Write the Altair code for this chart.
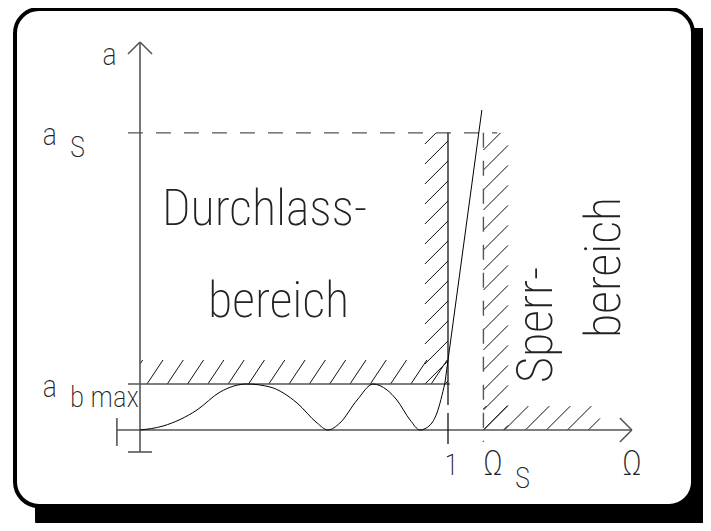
import altair as alt
import pandas as pd

# ---------------- data (Omega on x, attenuation a on y) ----------------
OMEGA_P = 1.0        # pass-band edge
OMEGA_S = 1.115      # stop-band edge
A_B_MAX = 1.0        # max. pass-band attenuation
A_S = 6.46           # min. stop-band attenuation

# attenuation curve
curve_omega = [0.0, 0.075, 0.185, 0.26, 0.347, 0.422, 0.51, 0.575, 0.61, 0.649,
               0.705, 0.757, 0.802, 0.834, 0.877, 0.909, 0.942, 0.964, 0.990]
curve_a = [0.0, 0.087, 0.435, 0.826, 1.0, 0.935, 0.587, 0.152, 0.0, 0.152,
           0.652, 1.0, 0.870, 0.652, 0.217, 0.0, 0.109, 0.370, 1.022]
# steep rising part of the curve
steep_omega = [0.990, 1.110]
steep_a = [1.022, 6.957]

# view of the drawing (data units)
X_MIN, X_MAX = -0.42857, 1.82792
Y_MIN, Y_MAX = -2.0217, 9.1739
W, H = 695, 515

# decorative frame and shadow
frame = dict(x=-0.4058, x2=1.7955, y=9.152, y2=-1.652)
shadow = dict(x=-0.3409, x2=1.95, y=8.739, y2=-2.5)

# axes
X_AXIS = (-0.075, 1.597)
Y_AXIS = (-0.478, 8.435)

sx = W / (X_MAX - X_MIN)
sy = H / (Y_MAX - Y_MIN)

# ---------------- helpers ----------------
def seg(x, y, x2, y2):
    return dict(x=x, y=y, x2=x2, y2=y2)

def hatch(x0, x1, y0, y1, slope, h_px, phase):
    """hatch lines y = slope*x + c (pixel space), clipped to the band"""
    X0, X1, Y0, Y1 = x0 * sx, x1 * sx, y0 * sy, y1 * sy
    P = phase * sx
    out = []
    for k in range(-60, 60):
        xp = P + k * h_px
        c = Y0 - slope * xp
        xa = max(X0, (Y0 - c) / slope)
        xb = min(X1, (Y1 - c) / slope)
        if xb - xa > 1.0:
            out.append(seg(xa / sx, (slope * xa + c) / sy, xb / sx, (slope * xb + c) / sy))
    return out

# ---------------- tables ----------------
axes_df = pd.DataFrame([
    seg(X_AXIS[0], 0, X_AXIS[1], 0),                    # Omega axis
    seg(0, Y_AXIS[0], 0, Y_AXIS[1]),                    # a axis
    seg(X_AXIS[1], 0, 1.558, 0.261),                    # arrow heads
    seg(X_AXIS[1], 0, 1.558, -0.261),
    seg(0, Y_AXIS[1], -0.039, 8.174),
    seg(0, Y_AXIS[1], 0.039, 8.174),
    seg(-0.039, Y_AXIS[0], 0.039, Y_AXIS[0]),           # end ticks
    seg(X_AXIS[0], 0.261, X_AXIS[0], -0.348),
    seg(-0.039, A_B_MAX, 1.006, A_B_MAX),               # a_b max
])

solid_df = pd.DataFrame([seg(OMEGA_P, A_B_MAX, OMEGA_P, A_S)])
dash_p_df = pd.DataFrame([seg(OMEGA_P, -0.304, OMEGA_P, A_B_MAX)])
dash_df = pd.DataFrame([
    seg(-0.039, A_S, 1.16, A_S),
    seg(OMEGA_S, A_S, OMEGA_S, -0.261),
])

hatch_rows = []
hatch_rows += hatch(0.0, OMEGA_P, A_B_MAX, 1.522, 1.5, 20.3, 0.0227)
hatch_rows += hatch(0.925, OMEGA_P, A_B_MAX, A_S, 1.0, 20.0, 0.925)
hatch_rows += hatch(OMEGA_S, 1.195, 0.0, A_S, 1.0, 20.0, OMEGA_S)
hatch_rows += hatch(OMEGA_S, 1.4935, 0.0, 0.52, 1.0, 21.0, OMEGA_S)
hatch_df = pd.DataFrame(hatch_rows)

curve_df = pd.DataFrame({"x": curve_omega, "y": curve_a})
steep_df = pd.DataFrame({"x": steep_omega, "y": steep_a})

FONT = "Roboto Condensed, Liberation Sans Narrow, DejaVu Sans Condensed, Roboto, sans-serif"

text_a = pd.DataFrame([
    dict(x=-0.075, y=7.935, t="a"),
    dict(x=-0.2695, y=6.196, t="a"),
    dict(x=-0.2695, y=0.717, t="a"),
])
text_sub = pd.DataFrame([
    dict(x=-0.2273, y=5.935, t="S"),
    dict(x=-0.2273, y=0.50, t="b max"),
    dict(x=1.2175, y=-1.261, t="S"),
])
text_omega = pd.DataFrame([
    dict(x=1.1136, y=-0.978, t="Ω"),
    dict(x=1.5649, y=-0.978, t="Ω"),
])
text_one = pd.DataFrame([
    dict(x=1.0114, y=-0.978, t="1"),
])
big_text = pd.DataFrame([
    dict(x=0.0714, y=4.457, t="Durchlass-"),
    dict(x=0.2208, y=2.457, t="bereich"),
])
rot_text = pd.DataFrame([
    dict(x=1.3377, y=1.022, t="Sperr-"),
    dict(x=1.5584, y=2.0, t="bereich"),
])

# ---------------- chart ----------------
xs = alt.Scale(domain=[X_MIN, X_MAX], nice=False, zero=False)
ys = alt.Scale(domain=[Y_MIN, Y_MAX], nice=False, zero=False)
X = lambda f="x": alt.X(f"{f}:Q", scale=xs, axis=None)
Y = lambda f="y": alt.Y(f"{f}:Q", scale=ys, axis=None)

def rules(df, **kw):
    return alt.Chart(df).mark_rule(**kw).encode(x=X(), y=Y(), x2="x2:Q", y2="y2:Q")

def texts(df, size, **kw):
    return alt.Chart(df).mark_text(font=FONT, fontSize=size, fontWeight=200, color="#222",
                                   baseline="alphabetic", **kw).encode(x=X(), y=Y(), text="t:N")

shadow_l = alt.Chart(pd.DataFrame([shadow])).mark_rect(color="black", cornerRadius=26).encode(
    x=X(), x2="x2:Q", y=Y(), y2="y2:Q")
frame_l = alt.Chart(pd.DataFrame([frame])).mark_rect(
    fill="white", stroke="black", strokeWidth=4, cornerRadius=24).encode(
    x=X(), x2="x2:Q", y=Y(), y2="y2:Q")

layers = [
    shadow_l,
    frame_l,
    rules(hatch_df, color="#111", strokeWidth=1),
    rules(axes_df, color="#555", strokeWidth=1.6),
    rules(dash_df, color="#555", strokeWidth=1.4, strokeDash=[15, 13]),
    rules(solid_df, color="black", strokeWidth=1.2),
    rules(dash_p_df, color="black", strokeWidth=1.2, strokeDash=[31, 8]),
    alt.Chart(curve_df).mark_line(color="black", strokeWidth=1, interpolate="monotone").encode(x=X(), y=Y()),
    alt.Chart(steep_df).mark_line(color="black", strokeWidth=1).encode(x=X(), y=Y()),
    texts(text_a, 31, align="right"),
    texts(text_sub, 29, align="left"),
    texts(text_omega, 35, align="left"),
    texts(text_one, 29, align="center"),
    texts(big_text, 50, align="left"),
    texts(rot_text, 50, align="left", angle=270),
]

chart = alt.layer(*layers).properties(
    width=W, height=H, padding=0, autosize=alt.AutoSizeParams(type="none"),
    background="white",
).configure_view(stroke=None)

chart.save("out.html", embed_options={"renderer": "svg", "actions": False})
